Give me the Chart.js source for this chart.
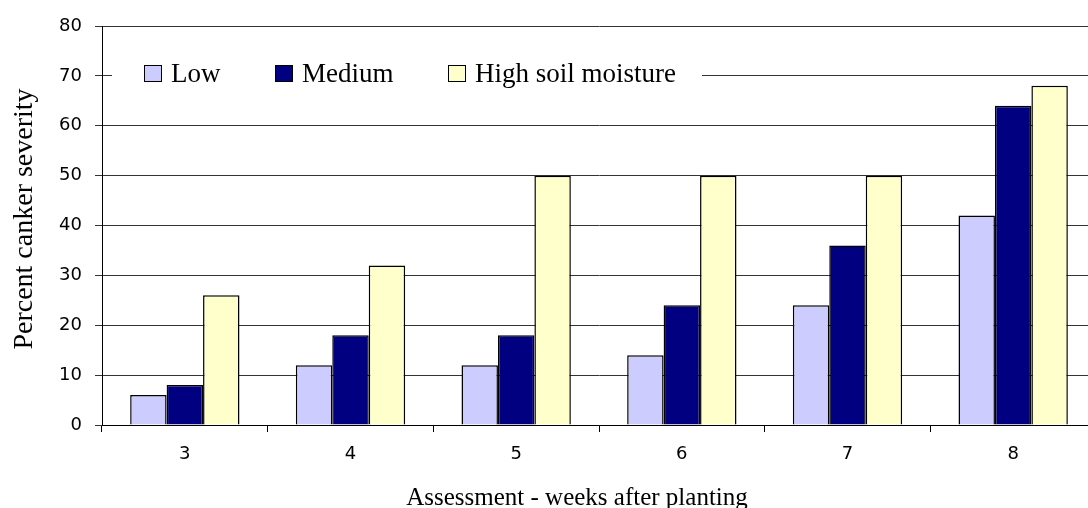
<!DOCTYPE html>
<html>
<head>
<meta charset="utf-8">
<script src="https://cdn.jsdelivr.net/npm/chart.js@4/dist/chart.umd.min.js"></script>
<style>
  html, body { margin: 0; padding: 0; background: #fff; overflow: hidden; }
  #wrap { width: 1100px; height: 508px; position: relative; }
</style>
</head>
<body>
<div id="wrap"><canvas id="c" width="1100" height="508"></canvas></div>
<script>
// Weeks after planting at which canker severity was assessed
const weeks = ['3', '4', '5', '6', '7', '8'];
// Percent canker severity per soil moisture level
const lowMoisture    = [6, 12, 12, 14, 24, 42];
const mediumMoisture = [8, 18, 18, 24, 36, 64];
const highMoisture   = [26, 32, 50, 50, 50, 68];
const seriesNames = ['Low', 'Medium', 'High soil moisture'];
const yTicks = [0, 10, 20, 30, 40, 50, 60, 70, 80];
const xTitle = 'Assessment - weeks after planting';
const yTitle = 'Percent canker severity';

const TICK_FONT = "'DejaVu Sans', 'Liberation Sans', Arial, sans-serif";
const SERIF = "'Liberation Serif', 'Times New Roman', serif";

// Legend drawn inside the plot, on a white band over the 70 gridline
const innerLegend = {
  id: 'innerLegend',
  afterDatasetsDraw(chart) {
    const ctx = chart.ctx;
    const area = chart.chartArea;
    const y = Math.round(chart.scales.y.getPixelForValue(70));
    ctx.save();
    ctx.fillStyle = '#ffffff';
    ctx.fillRect(area.left + 10, y - 16, 590, 32);
    const items = [
      { box: 42, text: 69 },
      { box: 173, text: 200 },
      { box: 346, text: 373 }
    ];
    ctx.font = '27px ' + SERIF;
    ctx.textBaseline = 'alphabetic';
    ctx.textAlign = 'left';
    chart.data.datasets.forEach((ds, i) => {
      const bx = area.left + items[i].box;
      ctx.fillStyle = ds.backgroundColor;
      ctx.fillRect(bx + 0.5, y - 10.5, 17, 16);
      ctx.strokeStyle = '#000';
      ctx.lineWidth = 1;
      ctx.strokeRect(bx + 0.5, y - 10.5, 17, 16);
      ctx.fillStyle = '#000';
      ctx.fillText(ds.label, area.left + items[i].text, y + 6);
    });
    ctx.restore();
  }
};

// Axis titles in a serif face
const axisTitles = {
  id: 'axisTitles',
  afterDraw(chart) {
    const ctx = chart.ctx;
    ctx.save();
    ctx.fillStyle = '#000';
    ctx.textAlign = 'center';
    ctx.textBaseline = 'alphabetic';
    ctx.font = '25px ' + SERIF;
    ctx.fillText(xTitle, 577, 505);
    ctx.translate(32, 219);
    ctx.rotate(-Math.PI / 2);
    ctx.font = '28px ' + SERIF;
    ctx.fillText(yTitle, 0, 0);
    ctx.restore();
  }
};

const barStyle = { borderColor: '#000', borderWidth: 1.5, borderSkipped: 'bottom' };

new Chart(document.getElementById('c'), {
  type: 'bar',
  data: {
    labels: weeks,
    datasets: [
      Object.assign({ label: seriesNames[0], data: lowMoisture, backgroundColor: '#CCCCFF' }, barStyle),
      Object.assign({ label: seriesNames[1], data: mediumMoisture, backgroundColor: '#000080' }, barStyle),
      Object.assign({ label: seriesNames[2], data: highMoisture, backgroundColor: '#FFFFCC' }, barStyle)
    ]
  },
  options: {
    responsive: false,
    animation: false,
    devicePixelRatio: 1,
    layout: { padding: { top: 26, right: 4, left: 0, bottom: 0 } },
    plugins: { legend: { display: false }, tooltip: { enabled: false } },
    datasets: { bar: { categoryPercentage: 0.66, barPercentage: 1.0 } },
    scales: {
      x: {
        offset: true,
        grid: { offset: true, drawOnChartArea: false, drawTicks: true, tickLength: 7, color: '#000' },
        border: { color: '#000', width: 1 },
        ticks: { color: '#000', font: { family: TICK_FONT, size: 18 }, padding: 12 },
        afterFit(s) { s.height = 83; }
      },
      y: {
        min: 0, max: 80,
        afterBuildTicks(s) { s.ticks = yTicks.map(v => ({ value: v })); },
        grid: { color: '#333', tickLength: 7, drawTicks: true },
        border: { color: '#000', width: 1 },
        ticks: { color: '#000', font: { family: TICK_FONT, size: 18 }, padding: 13 },
        afterFit(s) { s.width = 102; }
      }
    }
  },
  plugins: [innerLegend, axisTitles]
});
</script>
</body>
</html>
